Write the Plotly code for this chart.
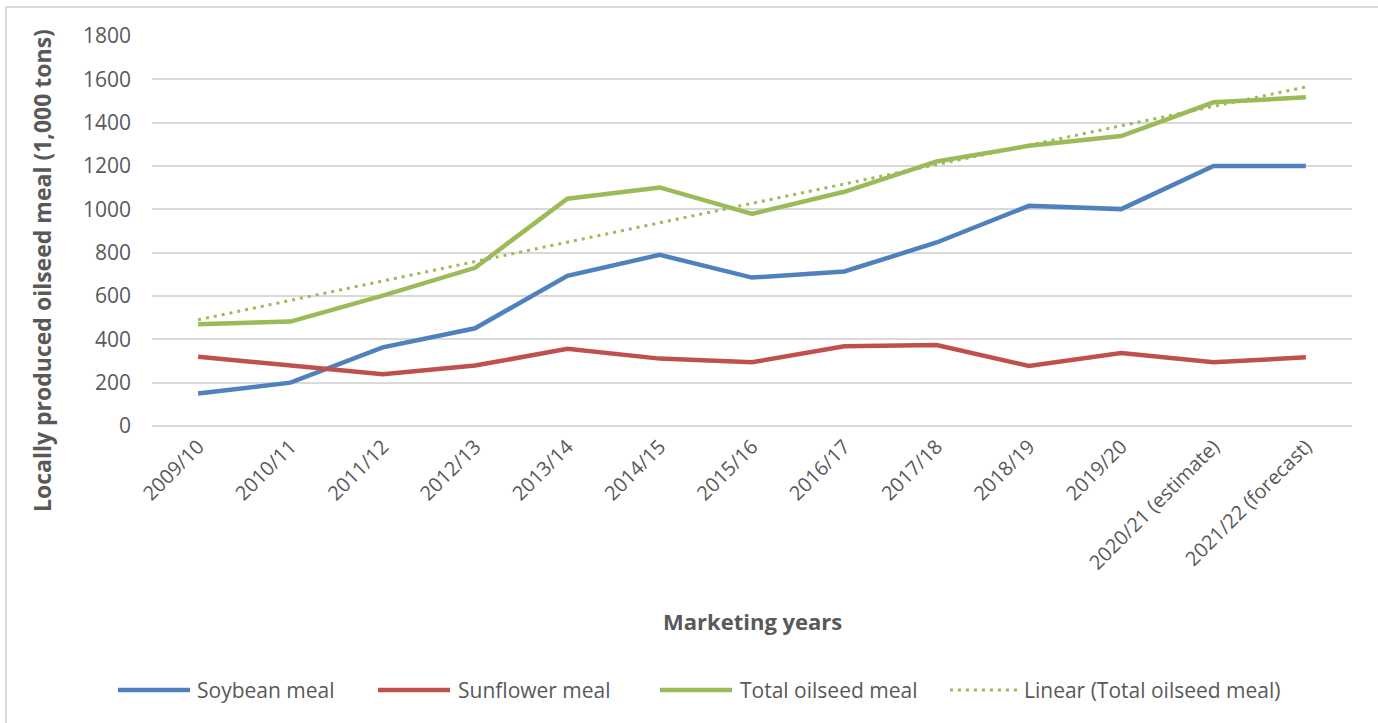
import numpy as np
import plotly.graph_objects as go

# Marketing years and locally produced oilseed meal (1,000 tons)
years = ["2009/10", "2010/11", "2011/12", "2012/13", "2013/14", "2014/15",
         "2015/16", "2016/17", "2017/18", "2018/19", "2019/20",
         "2020/21 (estimate)", "2021/22 (forecast)"]
soybean = [150, 200, 363, 451, 693, 790, 685, 713, 847, 1016, 1001, 1200, 1200]
sunflower = [320, 282, 239, 279, 356, 311, 294, 368, 374, 277, 337, 294, 317]
total = [470, 482, 602, 730, 1049, 1101, 979, 1081, 1221, 1293, 1338, 1494, 1517]
y_ticks = [0, 200, 400, 600, 800, 1000, 1200, 1400, 1600, 1800]

BLUE = "#4f81bd"
RED = "#c0504d"
GREEN = "#9bbb59"
TXT = "#595959"
GRID = "#d9d9d9"
FONT = "'Open Sans', Lato, sans-serif"

# Least-squares linear trend of the total series
idx = np.arange(len(total))
slope, intercept = np.polyfit(idx, total, 1)
trend = slope * idx + intercept

W, H = 1378, 723
L, R, T, B = 152, 26, 36, 297
pw, ph = W - L - R, H - T - B


def px_x(x):
    return (x - L) / pw


def px_y(y):
    return (H - B - y) / ph


fig = go.Figure()
fig.add_trace(go.Scatter(x=years, y=soybean, mode="lines", name="Soybean meal",
                         line=dict(color=BLUE, width=4.5)))
fig.add_trace(go.Scatter(x=years, y=sunflower, mode="lines", name="Sunflower meal",
                         line=dict(color=RED, width=4.5)))
fig.add_trace(go.Scatter(x=years, y=total, mode="lines", name="Total oilseed meal",
                         line=dict(color=GREEN, width=4.5)))
fig.add_trace(go.Scatter(x=years, y=trend, mode="lines",
                         name="Linear (Total oilseed meal)",
                         line=dict(color=GREEN, width=3, dash="3px,5px")))

shapes = []
annotations = []

# outer chart frame
shapes.append(dict(type="rect", xref="paper", yref="paper",
                   x0=px_x(6), x1=px_x(1400), y0=px_y(7), y1=px_y(760),
                   line=dict(color=GRID, width=2), fillcolor="rgba(0,0,0,0)",
                   layer="below"))

# legend drawn along the bottom of the chart
legend_items = [
    ("Soybean meal", BLUE, "solid", 4.5, 118, 190, 195),
    ("Sunflower meal", RED, "solid", 4.5, 378, 450, 456),
    ("Total oilseed meal", GREEN, "solid", 4.5, 660, 732, 738),
    ("Linear (Total oilseed meal)", GREEN, "3px,5px", 3, 950, 1018, 1022),
]
ly = 690
for label, color, dash, width, x0, x1, tx in legend_items:
    shapes.append(dict(type="line", xref="paper", yref="paper",
                       x0=px_x(x0), x1=px_x(x1), y0=px_y(ly), y1=px_y(ly),
                       line=dict(color=color, width=width, dash=dash)))
    annotations.append(dict(text=label, xref="paper", yref="paper",
                            x=px_x(tx), y=px_y(ly), xanchor="left", yanchor="middle",
                            showarrow=False, font=dict(family=FONT, size=21, color=TXT)))

# axis titles
annotations.append(dict(text="<b>Locally produced oilseed meal (1,000 tons)</b>",
                        xref="paper", yref="paper", x=px_x(42), y=px_y(271),
                        xanchor="center", yanchor="middle", textangle=-90,
                        showarrow=False, font=dict(family=FONT, size=23, color=TXT)))
annotations.append(dict(text="<b>Marketing years</b>", xref="paper", yref="paper",
                        x=px_x(752), y=px_y(621), xanchor="center", yanchor="middle",
                        showarrow=False, font=dict(family=FONT, size=22, color=TXT)))

fig.update_layout(
    width=W, height=H,
    margin=dict(l=L, r=R, t=T, b=B),
    paper_bgcolor="white", plot_bgcolor="white",
    showlegend=False,
    shapes=shapes, annotations=annotations,
    font=dict(family=FONT, color=TXT),
)
fig.update_xaxes(
    type="category", range=[-0.5, len(years) - 0.5],
    tickangle=-45, tickfont=dict(family=FONT, size=20, color=TXT),
    showgrid=False, zeroline=False, showline=False, ticks="",
    ticklabelstandoff=4,
)
fig.update_yaxes(
    range=[0, 1800], tickvals=y_ticks,
    tickfont=dict(family=FONT, size=21, color=TXT),
    showgrid=True, gridcolor=GRID, gridwidth=1.5,
    zeroline=True, zerolinecolor=GRID, zerolinewidth=1.5,
    showline=False, ticks="", ticklabelstandoff=20,
)

fig.write_html("out.html")
